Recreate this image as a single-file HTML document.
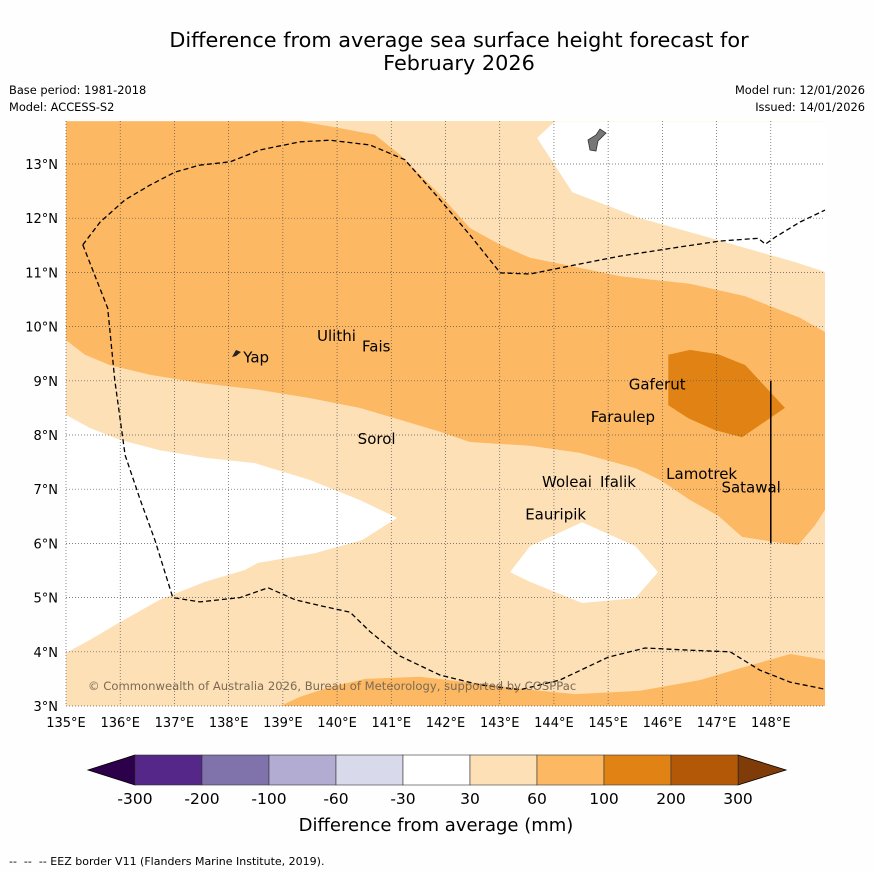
<!DOCTYPE html>
<html><head><meta charset="utf-8"><style>
body{margin:0;background:#fff;font-family:"Liberation Sans",sans-serif}
svg text{font-family:"DejaVu Sans","Liberation Sans",sans-serif}
</style></head><body>
<svg id="c" width="873" height="873" viewBox="0 0 873 873">
<rect width="873" height="873" fill="#fefefe"/>
<text x="459" y="47" font-size="20.8" text-anchor="middle">Difference from average sea surface height forecast for</text>
<text x="459" y="70" font-size="20.8" text-anchor="middle">February 2026</text>
<text x="9" y="94" font-size="11.4">Base period: 1981-2018</text>
<text x="9" y="111" font-size="11.4">Model: ACCESS-S2</text>
<text x="865" y="94" font-size="11.4" text-anchor="end">Model run: 12/01/2026</text>
<text x="865" y="111" font-size="11.4" text-anchor="end">Issued: 14/01/2026</text>
<g id="map"></g>
<g id="cbar"></g>
<text x="436" y="831" font-size="18" text-anchor="middle">Difference from average (mm)</text>
<text x="9" y="865" font-size="11" xml:space="preserve" style="white-space:pre">--  --  -- EEZ border V11 (Flanders Marine Institute, 2019).</text>
</svg>
<script>
const lonTicks=[135,136,137,138,139,140,141,142,143,144,145,146,147,148];
const latTicks=[3,4,5,6,7,8,9,10,11,12,13];
const cbarLevels=["-300","-200","-100","-60","-30","30","60","100","200","300"];
const cbarColors=["#542788","#8073ac","#b2abd2","#d8daeb","#ffffff","#fee0b6","#fdb863","#e08214","#b35806"];
const whiteTop=[[144.02,13.79],[143.69,13.48],[144.34,12.48],[145.59,12.0],[146.7,11.69],[147.53,11.45],[148.45,11.19],[149,11.01],[149,13.79]];
const whiteLeft=[[135,8.37],[135.44,8.13],[136,7.91],[136.73,7.72],[137.56,7.58],[138.49,7.48],[139.5,7.17],[140.42,6.8],[141.11,6.47],[140.46,6.06],[139.59,5.82],[138.54,5.64],[138.3,5.51],[137.56,5.29],[136.73,4.96],[136,4.55],[135.44,4.22],[135,3.98]];
const whiteIsland=[[143.19,5.47],[143.56,5.95],[144.52,6.39],[145.5,5.95],[145.92,5.47],[145.5,4.99],[144.52,4.9],[143.56,5.29]];
const medBand=[[135,13.79],[139.32,13.79],[140.06,13.66],[140.7,13.54],[141.16,13.17],[141.9,12.43],[142.45,11.82],[143.01,11.51],[143.56,11.27],[144.3,11.12],[145.22,10.93],[146.51,10.79],[147.53,10.56],[148.54,10.16],[149,9.9],[149,6.62],[148.82,6.34],[148.51,5.97],[148.17,6.01],[147.47,6.12],[147.03,6.51],[146.51,6.8],[145.96,7.17],[145.5,7.39],[144.48,7.67],[143.56,7.8],[142.45,7.87],[141.9,8.06],[141.16,8.28],[140.42,8.5],[139.5,8.68],[138.58,8.83],[137.47,8.96],[136.55,9.11],[135.81,9.29],[135.35,9.48],[135,9.75]];
const medBottom=[[138.95,3],[139.32,3.17],[139.87,3.35],[140.52,3.5],[141.53,3.54],[142.64,3.41],[143.56,3.3],[144.39,3.22],[145.59,3.28],[146.7,3.48],[147.44,3.7],[148.36,3.96],[149,3.85],[149,3]];
const darkZone=[[146.11,9.48],[146.51,9.57],[147.03,9.49],[147.53,9.29],[148.26,8.5],[147.47,7.96],[146.97,8.09],[146.48,8.31],[146.11,8.55]];
const eezLower=[[135.31,11.51],[135.77,10.34],[135.9,9.01],[136.09,7.63],[136.37,6.8],[136.64,6.06],[136.97,5.0],[137.47,4.92],[138.21,5.0],[138.73,5.18],[139.23,4.96],[139.69,4.85],[140.24,4.73],[140.61,4.37],[141.16,3.92],[141.9,3.57],[142.64,3.39],[143.38,3.3],[144.11,3.48],[145.0,3.9],[145.68,4.07],[146.51,4.03],[147.25,4.0],[147.8,3.66],[148.36,3.44],[149,3.31]];
const eezUpper=[[135.31,11.51],[135.63,11.93],[136.09,12.34],[136.55,12.61],[137.01,12.85],[137.47,12.98],[138.03,13.04],[138.58,13.26],[139.32,13.41],[139.87,13.44],[140.61,13.35],[141.25,13.08],[141.9,12.34],[142.45,11.69],[143.01,10.99],[143.56,10.97],[144.3,11.12],[145.22,11.3],[146.33,11.47],[147.07,11.58],[147.77,11.63],[147.9,11.52],[148.08,11.65],[148.54,11.93],[149,12.15]];
const places=[["Yap",138.27,9.43],["Ulithi",139.63,9.83],["Fais",140.46,9.63],["Gaferut",145.38,8.93],["Faraulep",144.68,8.33],["Sorol",140.38,7.93],["Lamotrek",146.07,7.28],["Woleai",143.78,7.13],["Ifalik",144.85,7.13],["Satawal",147.09,7.03],["Eauripik",143.47,6.53]];
const X0=66,X1=825,Y0=706,Y1=121,LON0=135,LON1=149,LAT0=3,LATTOP=3+(706-121)/54.2;
const xs=l=>X0+(l-LON0)*(X1-X0)/(LON1-LON0);
const ys=l=>Y0-(l-LAT0)*(Y0-Y1)/(LATTOP-LAT0);
const NS="http://www.w3.org/2000/svg";
const map=document.getElementById('map'),cb=document.getElementById('cbar');
function mk(tag,attrs,parent){const e=document.createElementNS(NS,tag);for(const k in attrs)e.setAttribute(k,attrs[k]);parent.appendChild(e);return e;}
const pts=a=>a.map(p=>xs(p[0]).toFixed(1)+','+ys(p[1]).toFixed(1)).join(' ');
let e=mk('rect',{x:X0,y:Y1,width:X1-X0,height:Y0-Y1,fill:'#fee0b6'},map);


const polys=[[whiteTop,'#ffffff','white-area-north'],[whiteLeft,'#ffffff','white-area-west'],[whiteIsland,'#ffffff','white-area-south'],[medBand,'#fdb863','medium-anomaly-band'],[medBottom,'#fdb863','medium-anomaly-south'],[darkZone,'#e08214','high-anomaly-area']];
for(const [d,c,n] of polys){e=mk('polygon',{points:pts(d),fill:c},map);

}
for(const t of lonTicks){e=mk('line',{x1:xs(t),x2:xs(t),y1:Y1,y2:Y0,stroke:'#555','stroke-width':0.7,'stroke-dasharray':'1,2'},map);


e=mk('text',{x:xs(t),y:Y0+21,'font-size':13,'text-anchor':'middle'},map);e.textContent=t+'°E';

}
for(const t of latTicks){e=mk('line',{x1:X0,x2:X1,y1:ys(t),y2:ys(t),stroke:'#555','stroke-width':0.7,'stroke-dasharray':'1,2'},map);


e=mk('text',{x:X0-8,y:ys(t)+5,'font-size':13,'text-anchor':'end'},map);e.textContent=t+'°N';

}
for(const [d,n] of [[eezLower,'eez-border-south'],[eezUpper,'eez-border-north']]){e=mk('polyline',{points:pts(d),fill:'none',stroke:'#000','stroke-width':1.3,'stroke-dasharray':'5,3'},map);

}
e=mk('line',{x1:xs(148),x2:xs(148),y1:ys(9),y2:ys(6),stroke:'#000','stroke-width':1.5},map);


e=mk('polygon',{points:'588,140 596,135 600,129 606,133 598,141 596,151 590,150',fill:'#777',stroke:'#333','stroke-width':0.8},map);


e=mk('polygon',{points:'232,357 236,350 241,352 236,356',fill:'#222'},map);


for(const [n,lo,la] of places){e=mk('text',{x:xs(lo),y:ys(la)+5,'font-size':15},map);e.textContent=n;

}
e=mk('text',{x:88,y:690,'font-size':11.6,fill:'#7a6a55'},map);e.textContent='© Commonwealth of Australia 2026, Bureau of Meteorology, supported by COSPPac';


const cx0=135,cw=67,cy=755,ch=30;
e=mk('polygon',{points:`${cx0},${cy} 88,${cy+ch/2} ${cx0},${cy+ch}`,fill:'#2d004b',stroke:'#000','stroke-width':0.8},cb);


const cend=cx0+cw*cbarColors.length;
e=mk('polygon',{points:`${cend},${cy} 786,${cy+ch/2} ${cend},${cy+ch}`,fill:'#7f3b08',stroke:'#000','stroke-width':0.8},cb);


cbarColors.forEach((c,i)=>{e=mk('rect',{x:cx0+i*cw,y:cy,width:cw,height:ch,fill:c,stroke:'#333','stroke-width':0.6},cb);

});
cbarLevels.forEach((l,i)=>{e=mk('text',{x:cx0+i*cw,y:cy+ch+19,'font-size':15.5,'text-anchor':'middle'},cb);e.textContent=l;

});
</script>
</body></html>
